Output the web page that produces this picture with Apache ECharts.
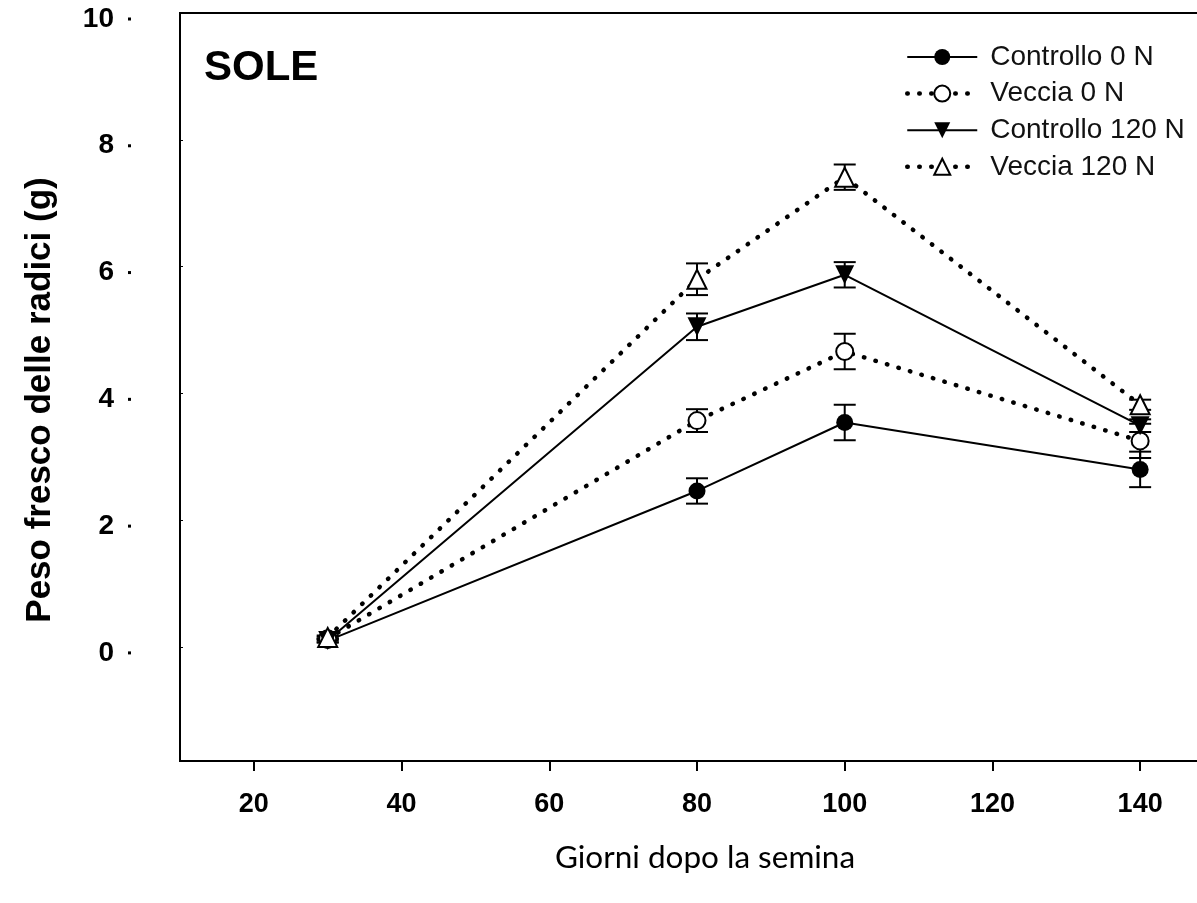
<!DOCTYPE html>
<html>
<head>
<meta charset="utf-8">
<script src="https://cdn.jsdelivr.net/npm/echarts@6/dist/echarts.min.js"></script>
<style>html,body{margin:0;padding:0;background:#fff;}#main{width:1197px;height:903px;}</style>
</head>
<body>
<div id="main"></div>
<script>
const xDays = [30, 80, 100, 140];
const xTicks = [20, 40, 60, 80, 100, 120, 140];
const yTicks = [0, 2, 4, 6, 8, 10];
const controllo0 = [0.10, 2.46, 3.54, 2.80];
const controllo0Err = [0.03, 0.20, 0.28, 0.28];
const veccia0 = [0.13, 3.57, 4.66, 3.25];
const veccia0Err = [0.03, 0.18, 0.28, 0.27];
const controllo120 = [0.10, 5.05, 5.87, 3.49];
const controllo120Err = [0.03, 0.21, 0.20, 0.10];
const veccia120 = [0.15, 5.80, 7.41, 3.82];
const veccia120Err = [0.03, 0.25, 0.20, 0.08];

const FONT = 'Liberation Sans, Arial, sans-serif';
const dotted = [0.5, 11.5];

function pts(v) { return xDays.map((x, i) => [x, v[i]]); }
function errs(v, e) { return xDays.map((x, i) => [x, v[i] - e[i], v[i] + e[i]]); }

function errSeries(v, e) {
  return {
    type: 'custom',
    z: 1,
    silent: true,
    clip: false,
    data: errs(v, e),
    renderItem: function (params, api) {
      const x = api.value(0), lo = api.value(1), hi = api.value(2);
      const p1 = api.coord([x, hi]), p2 = api.coord([x, lo]);
      const w = 11;
      const st = { stroke: '#000', lineWidth: 2 };
      return {
        type: 'group',
        children: [
          { type: 'line', shape: { x1: p1[0], y1: p1[1], x2: p2[0], y2: p2[1] }, style: st },
          { type: 'line', shape: { x1: p1[0] - w, y1: p1[1], x2: p1[0] + w, y2: p1[1] }, style: st },
          { type: 'line', shape: { x1: p2[0] - w, y1: p2[1], x2: p2[0] + w, y2: p2[1] }, style: st }
        ]
      };
    }
  };
}

const chart = echarts.init(document.getElementById('main'), null, { renderer: 'canvas' });
chart.setOption({
  animation: false,
  backgroundColor: '#fff',
  title: {
    text: 'SOLE',
    left: 204,
    top: 47,
    padding: 0,
    textStyle: { fontFamily: FONT, fontSize: 42, fontWeight: 'bold', color: '#000', lineHeight: 42 }
  },
  legend: {
    data: ['Controllo 0 N', 'Veccia 0 N', 'Controllo 120 N', 'Veccia 120 N'],
    orient: 'vertical',
    left: 905,
    top: 43,
    padding: 0,
    itemWidth: 70,
    itemHeight: 20,
    itemGap: 8.6,
    lineStyle: { width: 'inherit' },
    textStyle: { fontFamily: FONT, fontSize: 28, lineHeight: 28, color: '#111', padding: [0, 0, 0, 8] }
  },
  grid: {
    left: 180, width: 1034, top: 13, bottom: 142,
    outerBoundsMode: 'none', containLabel: false,
    show: true, borderColor: '#000', borderWidth: 2
  },
  xAxis: {
    type: 'value',
    min: 10,
    max: 150,
    name: 'Giorni dopo la semina',
    nameLocation: 'middle',
    nameGap: 81,
    nameTextStyle: { fontFamily: 'Lato, Open Sans, sans-serif', fontSize: 31.5, color: '#000', padding: [0, 0, 0, 16] },
    axisLine: { show: true, onZero: false, lineStyle: { color: '#000', width: 2 } },
    axisTick: { show: true, length: 10, lineStyle: { color: '#000', width: 2 }, customValues: xTicks },
    axisLabel: { margin: 30, fontFamily: FONT, fontSize: 27, fontWeight: 'bold', color: '#000', customValues: xTicks },
    splitLine: { show: false }
  },
  yAxis: {
    type: 'value',
    min: -1.8,
    max: 10,
    name: 'Peso fresco delle radici (g)',
    nameLocation: 'middle',
    nameRotate: 90,
    nameGap: 122,
    nameTextStyle: { fontFamily: FONT, fontSize: 35, fontWeight: 'bold', color: '#000', padding: [0, 26, 0, 0] },
    axisLine: { show: true, onZero: false, lineStyle: { color: '#000', width: 2 } },
    axisTick: { show: true, inside: true, length: 3, lineStyle: { color: '#000', width: 1 }, customValues: yTicks },
    axisLabel: {
      margin: 49,
      customValues: yTicks,
      padding: [12, 0, 0, 0],
      formatter: function (v) { return '{n|' + v + '}{s|}{d|}'; },
      rich: {
        n: { fontFamily: FONT, fontSize: 28, fontWeight: 'bold', color: '#000' },
        s: { width: 14 },
        d: { width: 3, height: 3, backgroundColor: '#000' }
      }
    },
    splitLine: { show: false }
  },
  series: [
    errSeries(controllo0, controllo0Err),
    errSeries(veccia0, veccia0Err),
    errSeries(controllo120, controllo120Err),
    errSeries(veccia120, veccia120Err),
    {
      name: 'Controllo 0 N', type: 'line', z: 3, data: pts(controllo0),
      symbol: 'circle', symbolSize: 17,
      lineStyle: { color: '#000', width: 2 },
      itemStyle: { color: '#000' }
    },
    {
      name: 'Veccia 0 N', type: 'line', z: 3, data: pts(veccia0),
      symbol: 'circle', symbolSize: 17,
      lineStyle: { color: '#000', width: 4.5, type: dotted, cap: 'round' },
      itemStyle: { color: '#fff', borderColor: '#000', borderWidth: 2 }
    },
    {
      name: 'Controllo 120 N', type: 'line', z: 3, data: pts(controllo120),
      symbol: 'triangle', symbolRotate: 180, symbolSize: 19,
      lineStyle: { color: '#000', width: 2 },
      itemStyle: { color: '#000' }
    },
    {
      name: 'Veccia 120 N', type: 'line', z: 3, data: pts(veccia120),
      symbol: 'triangle', symbolSize: 19,
      lineStyle: { color: '#000', width: 4.5, type: dotted, cap: 'round' },
      itemStyle: { color: '#fff', borderColor: '#000', borderWidth: 2 }
    }
  ]
});
</script>
</body>
</html>
